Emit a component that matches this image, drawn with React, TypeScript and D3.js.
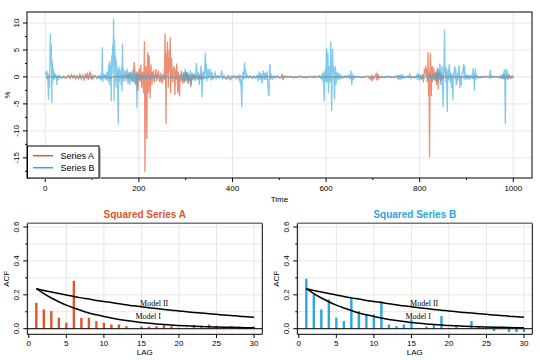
import React from "react";
import * as d3 from "d3";

// time series, [time, percent]
const seriesA: [number, number][] = [
  [1, 0], [5, -0.1], [10, 0.1], [15, -0.1], [20, 0.2], [25, -0.1], [30, 0.1], [35, -0.2], [40, 0.1], [45, -0.2],
  [50, 0.3], [53, -0.3], [56, 0.4], [59, -0.2], [62, 0.3], [65, -0.4], [68, 0.2], [71, -0.3], [74, 0.5], [77, -0.4],
  [80, 0.3], [83, -0.5], [86, 0.6], [88, -0.3], [90, 0.8], [92, -0.6], [94, 0.5], [96, 1.0], [98, -0.5], [100, 0.4],
  [102, -0.3], [105, 0.2], [110, -0.1], [115, 0.1], [120, -0.1], [125, 0.1], [130, -0.1], [135, 0.1], [140, -0.2],
  [145, 0.1], [150, -0.1], [155, 0.2], [160, -0.1], [165, 0.2], [168, -0.2], [171, 0.3], [174, -0.2], [177, 0.5],
  [180, -0.4], [182, 0.8], [185, -0.5], [187, -0.8], [189, 1.0], [190, 2.8], [192, 0.5], [193, -1.5], [195, 1.0],
  [196, -0.5], [198, -2.6], [199, 0.3], [201, 1.5], [202, -0.8], [204, 2.3], [205, 0.2], [206, -2.0], [207, 0.5],
  [208, 1.0], [209, -0.5], [210, -3.0], [211, 1.0], [212, 6.6], [213, -17.6], [214, -3], [215, 2.0], [216, -1],
  [217, -11.5], [218, 0.5], [219, 4.6], [220, -3.0], [221, 1], [222, 4.0], [223, -1], [224, -4.0], [225, 0.5],
  [226, 2.3], [227, -0.5], [228, -1.5], [229, 0.8], [231, 1.0], [232, -0.6], [233, -1.0], [235, 0.8], [236, 1.5],
  [238, -0.8], [240, 0.5], [242, 1.2], [243, -0.4], [245, -1.0], [247, 0.8], [248, -0.3], [250, -1.2], [252, 0.6],
  [254, -0.5], [255, 2], [256, 8.1], [257, 1], [258, -8.7], [259, 4.5], [260, 0.5], [261, 6.5], [262, 1.5],
  [263, -2.0], [264, 2], [265, 5.0], [266, 1], [267, 7.4], [268, -3.0], [269, 1], [270, 3.5], [271, 0.5], [272, -1.0],
  [273, 1], [275, 2.0], [276, 0.2], [277, -3.4], [278, 0.5], [279, 1.5], [280, -0.5], [281, 2.5], [282, -0.5],
  [283, -3.0], [284, 1.0], [285, -0.5], [287, -3.6], [288, 0.5], [289, -0.8], [291, 1.2], [292, -0.5], [294, -1.2],
  [296, 0.8], [298, -1.0], [300, 1.0], [302, -0.6], [304, 0.8], [306, -1.2], [308, 0.5], [310, -0.8], [311, -1.9],
  [313, 0.5], [315, -0.3], [318, 0.3], [321, -0.4], [324, 0.2], [327, -0.3], [330, 0.2], [332, -0.5], [334, 0.2],
  [337, -0.4], [340, 0.1], [345, -0.2], [350, 0.1], [360, -0.1], [370, 0.1], [380, -0.1], [388, -0.4], [392, 0.1],
  [396, -0.5], [400, 0.1], [405, -0.1], [415, 0.1], [425, -0.1], [435, 0.1], [445, -0.1], [455, 0.1], [465, -0.1],
  [475, 0.1], [485, -0.1], [495, 0.1], [503, -0.2], [506, 0.4], [508, -0.6], [510, 0.2], [515, -0.1], [525, 0.1],
  [535, -0.1], [545, 0.1], [555, -0.1], [565, 0.1], [575, -0.1], [585, 0.1], [595, -0.1], [605, 0.1], [615, -0.1],
  [625, 0.1], [635, -0.1], [645, 0.1], [655, -0.1], [665, 0.1], [675, -0.1], [685, 0.1], [690, 0.1], [694, -0.4],
  [696, 0.3], [698, -0.8], [700, 0.2], [702, -0.3], [705, 0.2], [707, 0.6], [709, -0.7], [711, 0.6], [713, -0.3],
  [716, 0.1], [725, -0.1], [735, 0.1], [745, -0.1], [755, 0.1], [765, -0.1], [775, 0.1], [785, -0.1], [795, 0.1],
  [800, 0.1], [804, -0.3], [806, 0.5], [808, -1.0], [810, 1.5], [811, 0.5], [813, 2.0], [814, 0.3], [815, 1.5],
  [816, -1], [817, 0.5], [818, 4.6], [819, -3.6], [820, 1], [821, -14.9], [822, 0.5], [823, 4.4], [824, -1.0],
  [825, -3.6], [826, 2], [827, -1], [828, 2.0], [829, -0.5], [830, 1.5], [832, -0.5], [834, 1.0], [836, -1.5],
  [838, 1.7], [839, -0.5], [840, -2.3], [841, 0.5], [843, 1.0], [845, -0.8], [847, 0.5], [850, -0.3], [855, 0.3],
  [860, -0.2], [865, 0.2], [870, -0.1], [880, 0.1], [890, -0.1], [900, 0.1], [910, -0.1], [920, 0.1], [930, -0.1],
  [940, 0.1], [950, -0.1], [960, 0.1], [970, -0.1], [975, 0.1], [978, -0.3], [980, 0.3], [983, -0.4], [986, 0.2],
  [989, -0.3], [992, 0.3], [995, -0.2], [998, 0.2], [1000, -0.3],
];

const seriesB: [number, number][] = [
  [1, 0.9], [2, 0.3], [3, 1.2], [4, -0.5], [5, 0.8], [6, -1.5], [7, -4.2], [8, 0.5], [9, -2], [10, 3], [11, 8.0],
  [12, 2], [13, 6], [14, -4.8], [15, 3], [16, -1], [17, 1.8], [18, -0.5], [19, 1], [20, -0.4], [22, 0.5], [24, -0.3],
  [25, -1.5], [26, 0.3], [28, -0.5], [30, 0.3], [33, -0.2], [37, 0.1], [42, -0.2], [47, 0.1], [52, -0.1], [57, 0.2],
  [62, -0.1], [67, 0.1], [72, -0.2], [77, 0.1], [82, -0.1], [87, 0.2], [92, -0.2], [97, 0.1], [102, -0.2], [107, 0.3],
  [111, -0.3], [114, 0.2], [117, -0.4], [119, 0.5], [120, -0.6], [121, 1.0], [122, 5.5], [123, -1.0], [124, 0.6],
  [126, -0.3], [128, 0.5], [130, -0.6], [132, 1.0], [134, -0.8], [136, 2.5], [137, -1.5], [138, 3.0], [139, -0.5],
  [140, 2.0], [141, -4.5], [142, 4.0], [143, 0.5], [144, 6.0], [145, 2.0], [146, 10.8], [147, -4.5], [148, 7.0],
  [149, 1.0], [150, 4.0], [151, -2.0], [152, 3.0], [153, -1.0], [154, 1.5], [155, -3.0], [156, -8.8], [157, 2.0],
  [158, -1.0], [159, 1.5], [160, -0.5], [161, 1.0], [162, -1.5], [163, 2.0], [164, -2.7], [165, 6.2], [166, -1.0],
  [167, 1.5], [168, -0.8], [169, 0.5], [171, 1.2], [173, -0.8], [175, 1.5], [177, -1.3], [179, 0.9], [181, -1.5],
  [183, 1.0], [185, -0.8], [187, 1.3], [189, -1.0], [191, 0.6], [193, -1.2], [195, 0.5], [196, -5.7], [197, 0.8],
  [199, -0.6], [201, 0.4], [204, -0.5], [207, 0.3], [210, -0.3], [213, 0.4], [216, -0.3], [220, 0.3], [224, -0.4],
  [228, 0.3], [232, -0.3], [236, 0.2], [240, -0.2], [244, 0.3], [248, -0.2], [252, 0.2], [256, -0.3], [260, 0.2],
  [265, -0.2], [270, 0.2], [275, -0.3], [280, 0.2], [285, -0.2], [290, 0.3], [293, -0.5], [295, 0.8], [297, -1.0],
  [299, 1.5], [301, -0.8], [303, 1.0], [305, -1.3], [306, 0.5], [308, -0.6], [310, 1.2], [312, -1.5], [314, 0.8],
  [316, -0.5], [318, 0.6], [320, -0.8], [322, 1.0], [323, 2.6], [325, -0.5], [327, 0.8], [329, -1.5], [331, 0.5],
  [333, 2.0], [334, -0.5], [335, -3.8], [336, 0.5], [338, 1.0], [340, -0.4], [342, 4.5], [343, 0.5], [344, 2.5],
  [345, -0.8], [346, 0.5], [348, 1.5], [349, -0.3], [351, 0.8], [352, 1.5], [354, -0.7], [356, 1.0], [358, -0.5],
  [361, 0.4], [363, 0.8], [365, -0.3], [368, 0.2], [372, -0.2], [375, 0.3], [377, 1.2], [379, -0.3], [382, 0.3],
  [386, -0.2], [390, 0.3], [393, -0.3], [396, 0.2], [400, -0.2], [404, 0.3], [408, -0.3], [411, 0.2], [414, -0.5],
  [416, 0.5], [417, -1.5], [418, -0.5], [420, -5.6], [421, 0.3], [423, 1.0], [424, -0.5], [426, 2.7], [427, 0.5],
  [428, 1.5], [429, -0.3], [431, 0.4], [434, -0.2], [438, 0.2], [442, -0.3], [446, 0.2], [450, -0.3], [453, 0.4],
  [455, -0.8], [457, 1.0], [459, -0.5], [461, 0.7], [463, -1.2], [465, 0.5], [466, 1.2], [468, -0.6], [470, 0.8],
  [472, -0.5], [474, 1.0], [476, -2.2], [478, -3.6], [479, 1.0], [480, 2.4], [481, -0.5], [483, 0.5], [485, -0.4],
  [488, 0.2], [492, -0.2], [496, 0.2], [500, -0.2], [505, 0.1], [510, -0.2], [515, 0.2], [520, -0.1], [525, 0.1],
  [530, -0.2], [535, 0.1], [540, -0.1], [545, 0.2], [550, -0.1], [555, 0.1], [560, -0.2], [565, 0.1], [570, -0.1],
  [575, 0.2], [580, -0.1], [585, 0.2], [589, -0.3], [591, 0.5], [593, -0.8], [594, 1.0], [595, -1.5], [596, -4.5],
  [597, 0.5], [599, 1.5], [600, -1.0], [601, 5.3], [603, -1.0], [604, 4.5], [605, -3.0], [607, 2.0], [609, -1.0],
  [610, 6.6], [611, 0.5], [612, -6.3], [613, 1.0], [614, 5.2], [615, 0.5], [616, 2.0], [617, -1.0], [618, -4.2],
  [619, 1.0], [620, 2.0], [621, -1.5], [622, 1.0], [623, -0.8], [625, 0.8], [627, -0.5], [629, 0.6], [631, -0.3],
  [634, 0.2], [637, -0.2], [641, 0.2], [645, -0.2], [648, 0.3], [651, -0.4], [653, 1.2], [654, -0.5], [655, -1.5],
  [656, 0.6], [658, -0.6], [660, 0.2], [664, -0.1], [670, 0.1], [680, -0.1], [690, 0.1], [700, -0.1], [710, 0.1],
  [720, -0.1], [730, 0.1], [740, -0.1], [748, 0.1], [752, 0.3], [754, -0.5], [756, 0.4], [758, -0.6], [760, 0.5],
  [762, -0.4], [764, 0.3], [767, -0.2], [772, 0.1], [776, -0.2], [779, 0.5], [781, -0.2], [785, 0.1], [790, -0.2],
  [793, 0.3], [795, -0.5], [797, 0.7], [799, -0.6], [801, 0.5], [803, -0.4], [806, 0.2], [810, -0.2], [814, 0.3],
  [818, -0.3], [822, 0.4], [826, -0.5], [830, 0.6], [833, -0.8], [836, 1.0], [838, -1.0], [840, 1.5], [842, -0.5],
  [843, 2.5], [845, -1.5], [847, 2.0], [848, 0.5], [850, -5.6], [851, 1.0], [852, 2.0], [853, 8.8], [854, 0.5],
  [855, 2.0], [856, -1.0], [857, 1.5], [858, -2.0], [859, -6.5], [860, 0.5], [861, 1.5], [862, -0.5], [863, 2.4],
  [864, 0.5], [865, -1.0], [866, 1.0], [868, -2.0], [869, 0.5], [871, -4.3], [872, 0.5], [874, 1.0], [875, 2.0],
  [876, -0.5], [877, 1.6], [878, -1.5], [880, -1.0], [881, 0.8], [883, -0.5], [884, 2.2], [885, 0.5], [886, -2.1],
  [887, 0.3], [889, -1.6], [890, 0.5], [892, 1.0], [894, 2.4], [895, -0.5], [896, 2.1], [897, 0.3], [899, -0.5],
  [901, 0.5], [903, -0.5], [905, 0.4], [907, -0.3], [910, 0.3], [913, -0.4], [914, 1.6], [916, -0.5], [917, -2.5],
  [918, 0.5], [919, 1.6], [920, -0.5], [922, 0.3], [925, -0.2], [930, 0.1], [935, -0.1], [940, 0.1], [945, -0.1],
  [949, 0.2], [951, 1.3], [952, -0.3], [954, 0.2], [958, -0.1], [963, 0.1], [968, -0.1], [972, 0.2], [974, -0.4],
  [976, 0.5], [978, -0.3], [980, 0.8], [981, 1.4], [982, -0.5], [983, -8.7], [984, 0.5], [985, 1.5], [986, -0.3],
  [987, 1.2], [988, -0.5], [990, 0.3], [993, -0.2], [996, 0.1], [1000, -0.1],
];

// ACF of squared series, lags 1..30
const lags = d3.range(1, 31);
const acfA = [0.153, 0.114, 0.104, 0.065, 0.035, 0.283, 0.064, 0.065, 0.045, 0.035, 0.025, 0.025, 0.015, 0.005, 0.013,
  0.013, 0.015, 0.027, 0.015, 0.006, 0.006, 0.023, 0.018, 0.025, 0.017, 0.01, 0.015, 0.012, 0.01, 0.013];
const acfB = [0.295, 0.202, 0.114, 0.173, 0.065, 0.045, 0.183, 0.104, 0.083, 0.085, 0.163, 0.025, 0.015, 0.025, 0.055,
  0.005, 0.013, 0.027, 0.075, 0.005, 0.015, 0.005, 0.045, 0.015, 0.008, -0.014, 0.01, -0.02, -0.02, -0.02];
const model1 = [0.236, 0.207, 0.181, 0.159, 0.139, 0.122, 0.107, 0.093, 0.082, 0.072, 0.063, 0.055, 0.048, 0.042, 0.037,
  0.032, 0.028, 0.025, 0.022, 0.019, 0.017, 0.015, 0.013, 0.011, 0.01, 0.009, 0.008, 0.007, 0.006, 0.005];
const model2 = [0.236, 0.226, 0.217, 0.208, 0.199, 0.19, 0.182, 0.175, 0.167, 0.16, 0.154, 0.147, 0.141, 0.135, 0.13,
  0.124, 0.119, 0.114, 0.109, 0.105, 0.1, 0.096, 0.092, 0.088, 0.085, 0.081, 0.078, 0.074, 0.071, 0.068];

const timeTicks = [0, 200, 400, 600, 800, 1000];
const pctTicks = [-15, -10, -5, 0, 5, 10];
const lagTicks = [0, 5, 10, 15, 20, 25, 30];
const acfTicks = [0, 0.2, 0.4, 0.6];

const SANS = "'Liberation Sans', Arial, Helvetica, sans-serif";
const SERIF = "'Liberation Serif', 'Times New Roman', serif";
const colA = "#E4532B";
const colB = "#2CA6DD";

const TopPanel = () => {
  const x = d3.scaleLinear().domain([-39, 1040]).range([27, 532]);
  const y = d3.scaleLinear().domain([-18.74, 12.04]).range([178, 12]);
  const line = d3.line<[number, number]>().x((d) => x(d[0])).y((d) => y(d[1]));
  const minorX = d3.range(100, 1000, 200);
  const minorY = d3.range(-17.5, 12, 5);
  return (
    <g>
      {timeTicks.map((t) => (
        <line key={"gx" + t} x1={x(t)} x2={x(t)} y1={12} y2={178} stroke="#e6e6e6" strokeWidth={1} />
      ))}
      {pctTicks.map((t) => (
        <line key={"gy" + t} x1={27} x2={532} y1={y(t)} y2={y(t)} stroke="#e6e6e6" strokeWidth={1} />
      ))}
      <path d={line(seriesA) || ""} fill="none" stroke={colA} strokeOpacity={0.65} strokeWidth={1.3} />
      <path d={line(seriesB) || ""} fill="none" stroke={colB} strokeOpacity={0.6} strokeWidth={1.3} />
      <rect x={27} y={12} width={505} height={166} fill="none" stroke="#000" strokeWidth={1} />
      {timeTicks.map((t) => (
        <g key={"tx" + t}>
          <line x1={x(t)} x2={x(t)} y1={178} y2={182} stroke="#000" />
          <text x={x(t)} y={191} fontSize={8} textAnchor="middle" fontFamily={SANS}>{t}</text>
        </g>
      ))}
      {minorX.map((t) => (
        <line key={"mx" + t} x1={x(t)} x2={x(t)} y1={178} y2={180} stroke="#000" />
      ))}
      {pctTicks.map((t) => (
        <g key={"ty" + t}>
          <line x1={23} x2={27} y1={y(t)} y2={y(t)} stroke="#000" />
          <text transform={`translate(19,${y(t)}) rotate(-90)`} fontSize={8} textAnchor="middle" fontFamily={SANS}>{t}</text>
        </g>
      ))}
      {minorY.map((t) => (
        <line key={"my" + t} x1={25} x2={27} y1={y(t)} y2={y(t)} stroke="#000" />
      ))}
      <text x={279.5} y={202} fontSize={8} textAnchor="middle" fontFamily={SANS}>Time</text>
      <text transform="translate(10,95) rotate(-90)" fontSize={8} textAnchor="middle" fontFamily={SANS}>%</text>
      <rect x={29} y={148} width={72} height={31} fill="#bbb" />
      <rect x={27.5} y={146} width={71.5} height={32} fill="#fff" stroke="#000" strokeWidth={1} />
      <line x1={33} x2={53} y1={155.7} y2={155.7} stroke={colA} strokeWidth={1.5} />
      <line x1={33} x2={53} y1={167.7} y2={167.7} stroke={colB} strokeWidth={1.5} />
      <text x={60.5} y={159} fontSize={9} fontFamily={SANS}>Series A</text>
      <text x={60.5} y={171} fontSize={9} fontFamily={SANS}>Series B</text>
    </g>
  );
};

const AcfPanel = ({ left, acf, color, title }: { left: number; acf: number[]; color: string; title: string }) => {
  const x = d3.scaleLinear().domain([-0.2, 31.1]).range([left, left + 235]);
  const y = d3.scaleLinear().domain([-0.033, 0.622]).range([334.3, 223.3]);
  const curve = d3.line<number>().x((_, i) => x(lags[i])).y((d) => y(d)).curve(d3.curveMonotoneX);
  const gridY = d3.range(0, 0.61, 0.1);
  const minorY = [0.1, 0.3, 0.5];
  const right = left + 235;
  const cx = (left + right) / 2;
  return (
    <g>
      {lagTicks.map((t) => (
        <line key={"gx" + t} x1={x(t)} x2={x(t)} y1={223.3} y2={334.3} stroke="#e6e6e6" />
      ))}
      {gridY.map((t) => (
        <line key={"gy" + t} x1={left} x2={right} y1={y(t)} y2={y(t)} stroke="#e6e6e6" />
      ))}
      {lags.map((l, i) => (
        <line key={"b" + l} x1={x(l)} x2={x(l)} y1={y(0)} y2={y(acf[i])} stroke={color} strokeWidth={2.4} />
      ))}
      <line x1={left} x2={right} y1={y(0)} y2={y(0)} stroke="#000" strokeWidth={1} />
      <path d={curve(model2) || ""} fill="none" stroke="#000" strokeWidth={1.5} />
      <path d={curve(model1) || ""} fill="none" stroke="#000" strokeWidth={1.5} />
      <text x={x(16.7)} y={y(0.134)} fontSize={8} textAnchor="middle" fontFamily={SERIF}>Model II</text>
      <text x={x(15.9)} y={y(0.06)} fontSize={8} textAnchor="middle" fontFamily={SERIF}>Model I</text>
      <line x1={left} x2={left} y1={223.3} y2={334.3} stroke="#000" />
      <line x1={right} x2={right} y1={223.3} y2={334.3} stroke="#000" />
      <line x1={left} x2={right} y1={334.3} y2={334.3} stroke="#000" />
      <line x1={left} x2={right} y1={223.3} y2={223.3} stroke="#777" strokeWidth={1.4} />
      {lagTicks.map((t) => (
        <g key={"tx" + t}>
          <line x1={x(t)} x2={x(t)} y1={334.3} y2={338} stroke="#000" />
          <text x={x(t)} y={346} fontSize={8} textAnchor="middle" fontFamily={SANS}>{t}</text>
        </g>
      ))}
      {acfTicks.map((t) => (
        <g key={"ty" + t}>
          <line x1={left - 4} x2={left} y1={y(t)} y2={y(t)} stroke="#000" />
          <text transform={`translate(${left - 8},${y(t)}) rotate(-90)`} fontSize={8} textAnchor="middle" fontFamily={SANS}>
            {t.toFixed(1)}
          </text>
        </g>
      ))}
      {minorY.map((t) => (
        <line key={"my" + t} x1={left - 2} x2={left} y1={y(t)} y2={y(t)} stroke="#000" />
      ))}
      <text x={cx} y={218} fontSize={10} fontWeight="bold" textAnchor="middle" fill={color} fontFamily={SANS}>{title}</text>
      <text x={cx} y={355} fontSize={8} textAnchor="middle" fontFamily={SANS}>LAG</text>
      <text transform={`translate(${left - 18},278.8) rotate(-90)`} fontSize={8} textAnchor="middle" fontFamily={SANS}>ACF</text>
    </g>
  );
};

export default function App() {
  return (
    <svg width={540} height={360} style={{ position: "absolute", left: 0, top: 0, background: "#fff" }}>
      <rect width={540} height={360} fill="#fff" />
      <TopPanel />
      <AcfPanel left={27.3} acf={acfA} color={colA} title="Squared Series A" />
      <AcfPanel left={297.3} acf={acfB} color={colB} title="Squared Series B" />
    </svg>
  );
}
